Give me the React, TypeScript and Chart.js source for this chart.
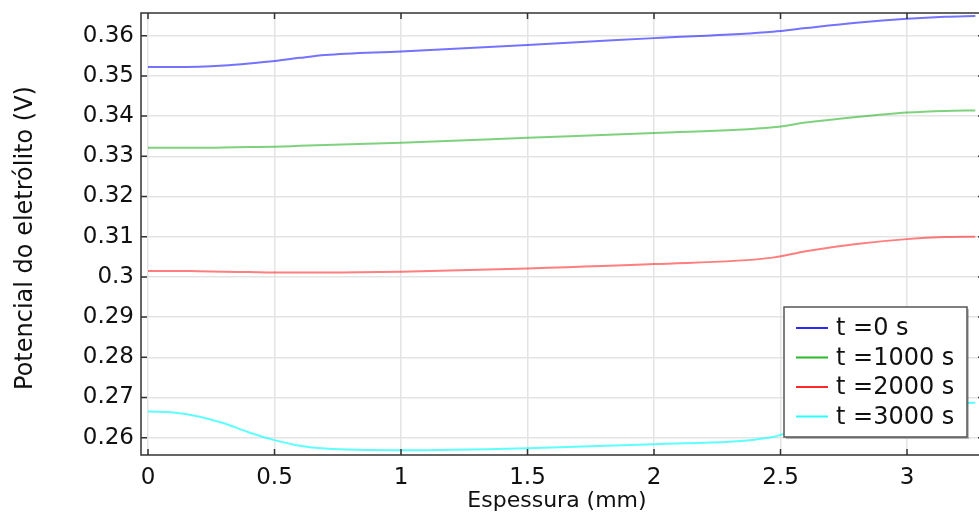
import React, { useEffect, useRef } from "react";
import { Chart, registerables } from "chart.js";
Chart.register(...registerables);

const thickness = [0, 0.1, 0.2, 0.3, 0.4, 0.5, 0.6, 0.7, 1.0, 1.5, 2.0, 2.47, 2.6, 2.8, 3.0, 3.15, 3.27];
const potT0 = [0.3522, 0.3522, 0.3523, 0.3526, 0.3531, 0.3537, 0.3545, 0.3552, 0.3561, 0.3577, 0.3594, 0.361, 0.3619, 0.3632, 0.3642, 0.3647, 0.3649];
const potT1000 = [0.3321, 0.3321, 0.3321, 0.3322, 0.3323, 0.3324, 0.3326, 0.3328, 0.3334, 0.3346, 0.3358, 0.3372, 0.3384, 0.3398, 0.3409, 0.3413, 0.3414];
const potT2000 = [0.3015, 0.3015, 0.3014, 0.3013, 0.3012, 0.3011, 0.3011, 0.3011, 0.3013, 0.3021, 0.3032, 0.3048, 0.3064, 0.3082, 0.3094, 0.3099, 0.31];
const potT3000 = [0.2665, 0.2663, 0.2653, 0.2636, 0.2613, 0.2594, 0.258, 0.2573, 0.2569, 0.2574, 0.2584, 0.2602, 0.263, 0.266, 0.2678, 0.2685, 0.2687];
const seriesLabels = ["t =0 s", "t =1000 s", "t =2000 s", "t =3000 s"];
const seriesValues = [potT0, potT1000, potT2000, potT3000];
const lineColors = ["rgba(40,40,255,0.65)", "rgba(40,180,40,0.6)", "rgba(255,40,40,0.6)", "rgba(40,255,255,0.75)"];
const legendColors = ["#2a2af0", "#2ab82a", "#ff2a2a", "#2affff"];
const xTitle = "Espessura (mm)";
const yTitle = "Potencial do eletrólito (V)";
const xMin = -0.0277, xMax = 3.3043, xStep = 0.5;
const yMin = 0.2557, yMax = 0.36565, yStep = 0.01;

const FONT = '"DejaVu Sans", sans-serif';

export default function App() {
  const ref = useRef<HTMLCanvasElement>(null);
  useEffect(() => {
    const canvas = ref.current!;
    const framePlugin = {
      id: "frame",
      afterDatasetsDraw(chart: any) {
        const ctx = chart.ctx;
        const { left, right, top, bottom } = chart.chartArea;
        const xs = chart.scales.x, ys = chart.scales.y;
        ctx.save();
        ctx.strokeStyle = "#333";
        ctx.lineWidth = 1.5;
        ctx.beginPath();
        ctx.rect(left, top, right - left, bottom - top);
        ctx.stroke();
        const tl = 6;
        ctx.beginPath();
        xs.ticks.forEach((t: any) => {
          const p = xs.getPixelForValue(t.value);
          ctx.moveTo(p, bottom); ctx.lineTo(p, bottom - tl);
          ctx.moveTo(p, top); ctx.lineTo(p, top + tl);
        });
        ys.ticks.forEach((t: any) => {
          const p = ys.getPixelForValue(t.value);
          ctx.moveTo(left, p); ctx.lineTo(left + tl, p);
          ctx.moveTo(right, p); ctx.lineTo(right - tl, p);
        });
        ctx.stroke();
        // axis titles
        ctx.fillStyle = "#111";
        ctx.textAlign = "center";
        ctx.textBaseline = "middle";
        ctx.font = `22px ${FONT}`;
        ctx.fillText(xTitle, 557, 501);
        ctx.font = `24px ${FONT}`;
        ctx.translate(26, 238);
        ctx.rotate(-Math.PI / 2);
        ctx.fillText(yTitle, 0, 0);
        ctx.restore();
      },
      afterDraw(chart: any) {
        const ctx = chart.ctx;
        ctx.save();
        const bx = 784, by = 307, bw = 183, bh = 130;
        ctx.fillStyle = "rgba(0,0,0,0.25)";
        ctx.fillRect(bx + 2, by + 2, bw, bh);
        ctx.fillStyle = "#fff";
        ctx.fillRect(bx, by, bw, bh);
        ctx.strokeStyle = "#555";
        ctx.lineWidth = 1.5;
        ctx.strokeRect(bx, by, bw, bh);
        ctx.font = `24px ${FONT}`;
        ctx.textBaseline = "middle";
        ctx.textAlign = "left";
        chart.data.datasets.forEach((ds: any, i: number) => {
          const y = by + 21 + i * 29.5;
          ctx.strokeStyle = legendColors[i];
          ctx.lineWidth = 2;
          ctx.beginPath();
          ctx.moveTo(bx + 12, y);
          ctx.lineTo(bx + 44, y);
          ctx.stroke();
          ctx.fillStyle = "#111";
          ctx.fillText(ds.label, bx + 52, y + 1);
        });
        ctx.restore();
      },
    };
    const fmt = (v: any) => String(parseFloat(Number(v).toFixed(4)));
    const chart = new Chart(canvas, {
      type: "line",
      data: {
        datasets: seriesValues.map((vals, i) => ({
          label: seriesLabels[i],
          data: thickness.map((x, j) => ({ x, y: vals[j] })),
          borderColor: lineColors[i],
          backgroundColor: lineColors[i],
          borderWidth: 2,
          pointRadius: 0,
          cubicInterpolationMode: "monotone" as const,
          fill: false,
        })),
      },
      options: {
        animation: false,
        responsive: false,
        layout: { padding: { left: 0, top: 13, right: 6, bottom: 0 } },
        plugins: { legend: { display: false }, tooltip: { enabled: false } },
        scales: {
          x: {
            type: "linear",
            min: xMin,
            max: xMax,
            afterFit: (s: any) => { s.height = 64; s.paddingLeft = 0; s.paddingRight = 0; },
            border: { display: false },
            grid: { color: "#e4e4e4", lineWidth: 1.5, drawTicks: false },
            ticks: {
              stepSize: xStep,
              includeBounds: false,
              padding: 9,
              color: "#111",
              font: { family: FONT, size: 23 },
              callback: fmt,
              maxRotation: 0,
            },
          },
          y: {
            type: "linear",
            min: yMin,
            max: yMax,
            afterFit: (s: any) => { s.width = 141; s.paddingTop = 0; s.paddingBottom = 0; },
            border: { display: false },
            grid: { color: "#e4e4e4", lineWidth: 1.5, drawTicks: false },
            ticks: {
              stepSize: yStep,
              includeBounds: false,
              padding: 7,
              color: "#111",
              font: { family: FONT, size: 23 },
              callback: fmt,
            },
          },
        },
      },
      plugins: [framePlugin],
    });
    return () => chart.destroy();
  }, []);
  return (
    <div style={{ position: "fixed", left: 0, top: 0, width: 979, height: 519, overflow: "hidden", background: "#fff" }}>
      <canvas ref={ref} width={990} height={519} style={{ display: "block" }} />
    </div>
  );
}
